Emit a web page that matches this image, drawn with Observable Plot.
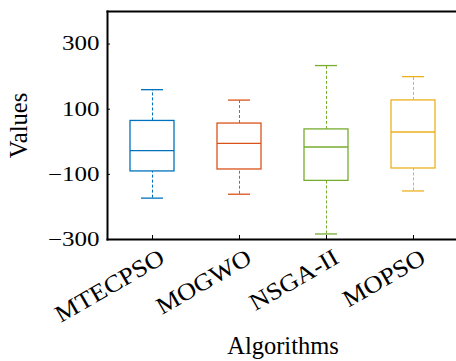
<!DOCTYPE html>
<html>
<head>
<meta charset="utf-8">
<script src="https://cdn.jsdelivr.net/npm/d3@7"></script>
<script src="https://cdn.jsdelivr.net/npm/@observablehq/plot@0.6"></script>
<style>
  html, body { margin: 0; padding: 0; background: #fff; }
  svg { display: block; }
</style>
</head>
<body>
<div id="chart"></div>
<script>
const categories = ["MTECPSO", "MOGWO", "NSGA-II", "MOPSO"];
const whiskerLow = [-173, -161, -283, -151];
const q1 = [-91, -85, -120, -82];
const median = [-27, -5, -16, 30];
const q3 = [64, 56, 38, 127];
const whiskerHigh = [160, 128, 234, 200];
const colors = ["#0072BD", "#D95319", "#77AC30", "#EDB120"];
const yTicks = [-300, -100, 100, 300];

const rows = categories.map((c, i) => ({
  cat: c, lo: whiskerLow[i], q1: q1[i], med: median[i], q3: q3[i], hi: whiskerHigh[i], color: colors[i]
}));

const font = "'Liberation Serif', 'Times New Roman', serif";

const chart = Plot.plot({
  width: 456,
  height: 361,
  marginLeft: 107,
  marginRight: -2,
  marginTop: 11,
  marginBottom: 122,
  style: { fontFamily: font, fontSize: "22px", color: "#000", background: "#fff" },
  x: { domain: categories, paddingInner: 0.5, paddingOuter: 0.25, label: null },
  y: { domain: [-300, 400], label: null },
  marks: [
    // whiskers (dashed)
    Plot.ruleX(rows, { x: "cat", y1: "lo", y2: "q1", stroke: "color", strokeWidth: 1, strokeDasharray: "3,2" }),
    Plot.ruleX(rows, { x: "cat", y1: "q3", y2: "hi", stroke: "color", strokeWidth: 1, strokeDasharray: "3,2" }),
    // caps
    Plot.tickY(rows, { x: "cat", y: "lo", stroke: "color", strokeWidth: 1.3, insetLeft: 11, insetRight: 11 }),
    Plot.tickY(rows, { x: "cat", y: "hi", stroke: "color", strokeWidth: 1.3, insetLeft: 11, insetRight: 11 }),
    // boxes
    Plot.barY(rows, { x: "cat", y1: "q1", y2: "q3", fill: "white", stroke: "color", strokeWidth: 1.3 }),
    // medians
    Plot.tickY(rows, { x: "cat", y: "med", stroke: "color", strokeWidth: 1.3 }),
    // axes
    Plot.axisY({ ticks: yTicks, tickSize: -3, tickPadding: 11, tickFormat: d => d < 0 ? "\u2212" + Math.abs(d) : String(d), fontSize: 20, label: null }),
    Plot.axisX({ tickSize: -4, tickFormat: () => "", label: null }),
    Plot.axisX({ tickSize: 0, tickRotate: -30, tickPadding: 8, dx: 10, dy: 8, fontSize: 24, label: null }),
    Plot.frame({ anchor: "left", strokeWidth: 2 }),
    Plot.frame({ anchor: "bottom", strokeWidth: 2 }),
    Plot.frame({ anchor: "top", strokeWidth: 2 }),
    Plot.text(["Values"], { frameAnchor: "left", textAnchor: "middle", lineAnchor: "middle", dx: -88, rotate: -90, fontSize: 24.5 }),
    Plot.text(["Algorithms"], { frameAnchor: "bottom", textAnchor: "middle", lineAnchor: "bottom", dy: 114, fontSize: 24.5 })
  ]
});
document.getElementById("chart").appendChild(chart);

// the reference's tick labels are widened: stretch glyphs along the text
const yLabels = new Set(yTicks.map(d => d < 0 ? "\u2212" + Math.abs(d) : String(d)));
const xLabels = new Set(categories);
chart.querySelectorAll("text").forEach(t => {
  const s = t.textContent.trim();
  const k = yLabels.has(s) ? 1.25 : xLabels.has(s) ? 1.1 : 0;
  if (!k) return;
  const len = t.getComputedTextLength();
  t.setAttribute("textLength", (len * k).toFixed(1));
  t.setAttribute("lengthAdjust", "spacingAndGlyphs");
});
</script>
</body>
</html>
